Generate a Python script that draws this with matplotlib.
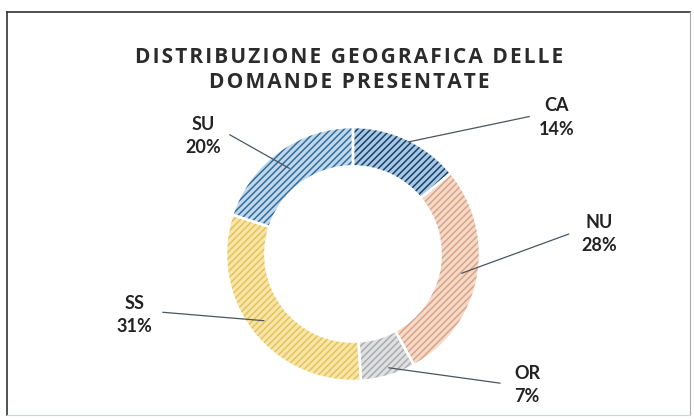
import matplotlib.pyplot as plt
import numpy as np

# Distribuzione geografica delle domande presentate (percentuali)
regions = ["CA", "NU", "OR", "SS", "SU"]
shares = [14, 28, 7, 31, 20]
title_lines = ["DISTRIBUZIONE GEOGRAFICA DELLE", "DOMANDE PRESENTATE"]

face_colors = ["#a9c8e4", "#f5d9c9", "#e0e0e0", "#f8e6a8", "#c2d8ea"]
hatch_colors = ["#17406a", "#dba486", "#a9acb0", "#e6c25a", "#2f6e9e"]

# label placement (data units, pie radius = 1)
label_pos = [(1.60, 1.075), (1.94, 0.16), (1.37, -1.03), (-1.72, -0.48), (-1.18, 0.93)]
line_end = [(1.41, 1.087), (1.72, 0.165), (1.18, -1.02), (-1.52, -0.457), (-0.99, 0.95)]
line_radius = [0.97, 0.85, 0.93, 0.86, 0.82]

plt.rcParams['font.family'] = ['Lato', 'DejaVu Sans']
plt.rcParams['hatch.linewidth'] = 1.1

fig = plt.figure(figsize=(6.94, 4.19), dpi=100)
fig.patch.set_facecolor("white")

# donut axes: centre ~ (353, 254) px, radius ~127 px
ax = fig.add_axes([226 / 694, 38 / 419, 254 / 694, 254 / 419])

wedges, _ = ax.pie(shares, startangle=90, counterclock=False, radius=1,
                   colors=face_colors,
                   wedgeprops=dict(width=0.31, linewidth=0))
for w, hc in zip(wedges, hatch_colors):
    w.set_hatch("/////")
    w.set_edgecolor(hc)
    w.set_linewidth(0)

# white separators between the slices
ax.pie(shares, startangle=90, counterclock=False, radius=1,
       colors=["none"] * len(shares),
       wedgeprops=dict(width=0.31, edgecolor="white", linewidth=1.8))

ax.set_xlim(-1, 1)
ax.set_ylim(-1, 1)
ax.set_aspect("equal")
ax.axis("off")

# leader lines and labels
for w, name, val, (tx, ty), (lx, ly), r in zip(wedges, regions, shares, label_pos,
                                                line_end, line_radius):
    mid = np.deg2rad((w.theta1 + w.theta2) / 2)
    px, py = r * np.cos(mid), r * np.sin(mid)
    ax.annotate("", xy=(px, py), xytext=(lx, ly),
                arrowprops=dict(arrowstyle="-", color="#4a5560", lw=0.9),
                annotation_clip=False)
    ax.text(tx, ty, f"{name}\n{val}%", ha="center", va="center",
            fontsize=13, fontweight="bold", color="#222222",
            linespacing=1.45, clip_on=False)

# title with some letter spacing (hair spaces between characters)
spaced = "\n".join("\u200a".join(line) for line in title_lines)
fig.text(349 / 694, 1 - 70 / 419, spaced,
         ha="center", va="center", fontsize=15, fontweight="bold",
         family=["Open Sans", "DejaVu Sans"], color="#2b2b2b", linespacing=1.25)

# outer frame of the scanned chart
x0, x1 = 7 / 694, 690 / 694
y0, y1 = 1 - 415 / 419, 1 - 12 / 419
fig.add_artist(plt.Line2D([x0, x1], [y1, y1], color="#333333", lw=1.2))
fig.add_artist(plt.Line2D([x0, x0], [y0, y1], color="#333333", lw=1.2))
fig.add_artist(plt.Line2D([x1, x1], [y0, y1], color="#aaaaaa", lw=0.8))
fig.add_artist(plt.Line2D([x0, x1], [y0, y0], color="#c8d8e0", lw=0.8))

fig.savefig("out.png", dpi=100)
